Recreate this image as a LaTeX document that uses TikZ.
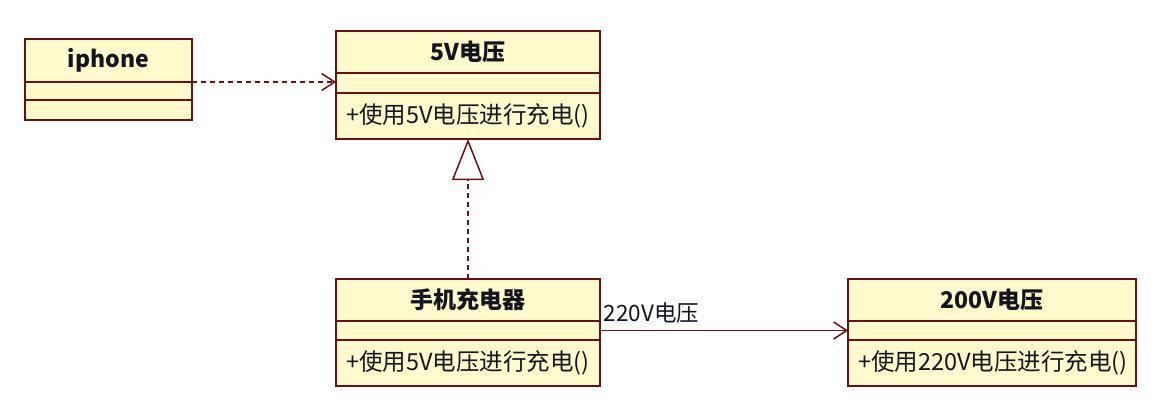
\documentclass[tikz,border=0pt]{standalone}
\usepackage{fontspec}
\setmainfont{Noto Sans CJK SC}
\usetikzlibrary{positioning, arrows.meta}
\definecolor{umlFill}{RGB}{255, 250, 204}
\definecolor{umlLine}{RGB}{100, 18, 22}
\definecolor{umlText}{RGB}{20, 20, 30}

\begin{document}
\begin{tikzpicture}[
    x=1pt, y=1pt,
    classtitle/.style={
        draw=umlLine,
        fill=umlFill,
        rectangle,
        line width=1.9pt,
        outer sep=0pt,
        minimum height=42pt,
        align=center,
        font=\fontsize{23}{26}\selectfont\bfseries\color{umlText}
    },
    compartment/.style={
        draw=umlLine,
        fill=umlFill,
        rectangle,
        line width=1.9pt,
        outer sep=0pt,
        minimum height=19pt
    },
    opsbox/.style={
        compartment,
        minimum height=46pt,
        inner xsep=10pt,
        align=left,
        font=\fontsize{23.5}{26}\selectfont\color{umlText}
    },
    dependency/.style={
        draw=umlLine,
        line width=1.5pt,
        dash pattern=on 5pt off 4pt,
        -{Straight Barb[length=13pt, width=17pt, line width=1.5pt]}
    },
    realize/.style={
        draw=umlLine,
        line width=1.5pt,
        dash pattern=on 5pt off 4pt,
        -{Triangle[open, length=41pt, width=32pt, fill=white, line width=1.5pt]}
    },
    assoc/.style={
        draw=umlLine,
        line width=1.5pt,
        -{Straight Barb[length=13pt, width=17pt, line width=1.5pt]}
    },
    rolelabel/.style={
        font=\fontsize{22.5}{24}\selectfont\color{umlText},
        inner sep=3pt
    }
]
\fill[white] (0,0) rectangle (1156,-408);
\useasboundingbox (0,0) rectangle (1156,-408);

% ================= IPHONE =================
\node[classtitle, minimum width=167pt, minimum height=43pt, anchor=north west] (iphone) at (25,-39) {iphone};
\node[compartment, minimum width=167pt, minimum height=18pt, below=0pt of iphone] (iphoneattr) {};
\node[compartment, minimum width=167pt, minimum height=20pt, below=0pt of iphoneattr] (iphoneops) {};

% ================= 5V =================
\node[classtitle, minimum width=264pt, anchor=north west] (fivev) at (336,-31) {5V电压};
\node[compartment, minimum width=264pt, minimum height=20pt, below=0pt of fivev] (fivevattr) {};
\node[opsbox, text width=244pt, below=0pt of fivevattr] (fivevops) {+使用5V电压进行充电()};

% ================= CHARGER =================
\node[classtitle, minimum width=264pt, anchor=north west] (charger) at (336,-279) {手机充电器};
\node[compartment, minimum width=264pt, below=0pt of charger] (chargerattr) {};
\node[opsbox, text width=244pt, below=0pt of chargerattr] (chargerops) {+使用5V电压进行充电()};

% ================= 200V =================
\node[classtitle, minimum width=288pt, anchor=north west] (vhigh) at (848,-279) {200V电压};
\node[compartment, minimum width=288pt, below=0pt of vhigh] (vhighattr) {};
\node[opsbox, text width=268pt, below=0pt of vhighattr] (vhighops) {+使用220V电压进行充电()};

% ================= RELATIONS =================
\draw[dependency] (iphone.south east) -- (iphone.south east -| fivev.west);
\draw[realize] (charger.north) -- (fivevops.south);
\draw[assoc] (chargerattr.east) -- (vhighattr.west)
    node[rolelabel, pos=0, anchor=south west, yshift=3pt] {220V电压};

\end{tikzpicture}
\end{document}
